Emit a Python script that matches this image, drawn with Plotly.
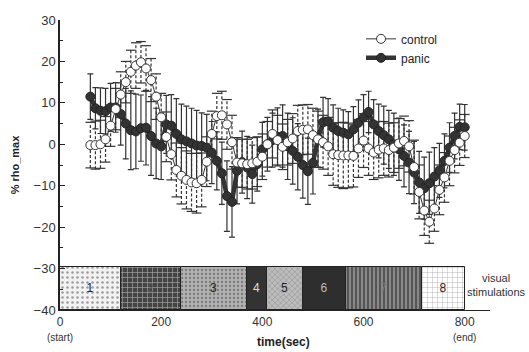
import plotly.graph_objects as go

# ---------------- data ----------------
time_sec = list(range(60, 801, 10))

control_mean = [-0.2, -0.2, 0.0, 1.2, 4.5,
                8.5, 12.0, 15.0, 17.5, 19.0, 19.8,
                18.3, 15.5, 11.5, 6.5, 1.8, -2.4,
                -6.2, -7.6, -8.6, -9.2, -9.4, -8.6,
                -4.2, 2.5, 6.8, 7.0, 4.8, 0.5,
                -4.4, -4.6, -4.8, -4.6, -4.2, -3.0,
                0.0, 2.5, 1.0, -0.6, 0.5, 1.4,
                3.2, 3.5, 3.6, 2.2, 1.2, 0.5,
                -0.5, -2.4, -2.6, -2.7, -2.7, -2.8,
                -1.0, 0.9, -1.0, -2.0, -1.3, -1.0,
                -1.4, -0.8, 0.2, 0.8, -0.5, -5.5,
                -11.5, -16.0, -18.7, -15.5, -11.0, -8.0,
                -4.0, -1.4, 0.4, 2.0]
control_err = [5.5, 5.8, 5.8, 5.5, 5.0,
               5.0, 5.5, 5.0, 5.2, 5.5, 5.0,
               5.5, 5.2, 5.5, 5.8, 6.0, 6.2,
               6.5, 6.8, 7.0, 7.0, 7.2, 6.5,
               6.0, 5.5, 5.5, 5.8, 6.0, 6.5,
               6.0, 5.8, 6.0, 6.2, 6.0, 5.5,
               5.5, 5.8, 6.0, 5.5, 5.5, 6.0,
               6.2, 6.0, 6.0, 6.5, 6.8, 6.5,
               7.0, 7.5, 7.8, 8.0, 7.8, 7.5,
               7.0, 6.5, 6.5, 6.5, 6.8, 6.5,
               6.5, 6.0, 6.0, 6.0, 6.2, 6.5,
               6.5, 6.0, 5.2, 5.5, 6.0, 6.0,
               6.0, 5.5, 5.5, 5.2]

panic_mean = [11.5, 8.7, 8.1, 8.0, 8.9,
              8.9, 7.3, 5.0, 3.4, 3.1, 3.9,
              4.0, 2.0, 0.2, -0.5, 4.8, 4.5,
              2.5, 1.2, 0.7, 0.2, -0.3, -0.4,
              -0.8, -2.0, -4.0, -7.0, -12.5, -13.9,
              -6.4, -4.3, -5.6, -7.2, -4.8, -1.2,
              0.0, 1.0, 1.8, 2.0, -0.5, -1.6,
              -3.0, -5.0, -6.5, -4.5, 1.5, 5.3,
              5.5, 4.0, 3.2, 2.8, 2.4, 3.6,
              5.2, 6.5, 7.8, 4.8, 3.2, 2.2,
              1.2, 0.0, -1.2, -2.8, -4.4, -6.8,
              -9.2, -10.6, -9.4, -7.8, -6.3, -4.0,
              -0.8, 2.0, 4.2, 4.1]
panic_err = [5.5, 5.0, 5.5, 5.5, 5.8,
             6.0, 7.5, 8.5, 9.5, 9.0, 8.0,
             9.0, 9.5, 8.5, 8.0, 7.0, 7.5,
             8.5, 8.5, 8.5, 8.5, 8.5, 8.0,
             8.0, 7.5, 7.0, 7.5, 8.5, 8.5,
             8.0, 7.5, 7.5, 7.0, 6.5, 6.5,
             6.5, 6.5, 7.0, 7.5, 8.0, 8.0,
             8.0, 8.0, 8.0, 7.5, 7.0, 6.0,
             5.5, 5.5, 5.5, 5.5, 5.5, 5.5,
             5.5, 5.5, 5.0, 6.0, 6.5, 7.0,
             7.0, 7.5, 7.5, 7.5, 7.5, 7.5,
             7.5, 7.5, 7.5, 7.0, 6.5, 6.5,
             6.0, 5.5, 5.5, 5.5]

stim_labels = ["1", "2", "3", "4", "5", "6", "7", "8"]
stim_start = [0, 120, 240, 370, 410, 480, 565, 715]
stim_end = [120, 240, 370, 410, 480, 565, 715, 800]
stim_bottom = -40
stim_top = -29.5

x_tickvals = [0, 200, 400, 600, 800]
x_ticktext = ["0<br><span style='font-size:10px'>(start)</span>", "200", "400", "600",
              "800<br><span style='font-size:10px'>(end)</span>"]
y_tickvals = [-40, -30, -20, -10, 0, 10, 20, 30]

# ---------------- figure ----------------
fig = go.Figure()

# stimulation blocks
stim_center = [(a + b) / 2 for a, b in zip(stim_start, stim_end)]
stim_width = [b - a for a, b in zip(stim_start, stim_end)]
stim_text_colors = ["#222222", "#5a5a5a", "#222222", "#dddddd", "#222222", "#bbbbbb", "#7a7a7a", "#222222"]
fig.add_trace(go.Bar(
    x=stim_center, width=stim_width,
    base=[stim_bottom] * len(stim_labels),
    y=[stim_top - stim_bottom] * len(stim_labels),
    text=stim_labels, textposition="inside", insidetextanchor="middle",
    textangle=0,
    insidetextfont=dict(size=12, family="Liberation Sans, Arial", color=stim_text_colors),
    textfont=dict(size=12, family="Liberation Sans, Arial", color=stim_text_colors),
    marker=dict(
        color=["#f2f2f2", "#444444", "#b0b0b0", "#333333", "#bdbdbd", "#2e2e2e", "#555555", "#ffffff"],
        line=dict(color="#222", width=1),
        pattern=dict(
            shape=[".", "+", ".", "", "x", "", "|", "+"],
            fgcolor=["#aaaaaa", "#777777", "#e0e0e0", "#333333", "#8a8a8a", "#2e2e2e", "#888888", "#777777"],
            size=[5, 5, 4, 5, 4, 5, 4, 5],
            solidity=[0.2, 0.25, 0.25, 0.2, 0.2, 0.2, 0.3, 0.15],
        ),
    ),
    showlegend=False, hoverinfo="skip",
))

# panic series (solid error bars)
fig.add_trace(go.Scatter(
    x=time_sec, y=panic_mean, mode="lines+markers", name="panic",
    line=dict(color="#333", width=4.5),
    marker=dict(symbol="circle", size=9, color="#333", line=dict(color="#222", width=1)),
    error_y=dict(type="data", array=panic_err, visible=True, color="#333", thickness=1.2, width=3),
    legendrank=2,
))

# control series: dashed error bars built from the data arrays
ex, ey, capx, capy = [], [], [], []
for t, m, e in zip(time_sec, control_mean, control_err):
    ex += [t, t, None]
    ey += [m - e, m + e, None]
    capx += [t, t]
    capy += [m - e, m + e]
fig.add_trace(go.Scatter(x=ex, y=ey, mode="lines", line=dict(color="#333", width=1.2, dash="3px,2px"),
                         showlegend=False, hoverinfo="skip"))
fig.add_trace(go.Scatter(x=capx, y=capy, mode="markers",
                         marker=dict(symbol="line-ew", size=7, line=dict(color="#333", width=1.2)),
                         showlegend=False, hoverinfo="skip"))
fig.add_trace(go.Scatter(
    x=time_sec, y=control_mean, mode="lines+markers", name="control",
    line=dict(color="#333", width=1),
    marker=dict(symbol="circle", size=9, color="white", line=dict(color="#333", width=1)),
    legendrank=1,
))

fig.add_annotation(x=1.016, xref="paper", y=-34.0, yref="y", text="visual<br>stimulations",
                   showarrow=False, xanchor="center", yanchor="middle", align="center",
                   font=dict(size=11, color="#333", family="Liberation Sans, Arial"))
fig.add_annotation(x=0.519, xref="paper", y=-0.11, yref="paper", text="<b>time(sec)</b>",
                   showarrow=False, xanchor="center", yanchor="middle",
                   font=dict(size=12, color="#222", family="Liberation Sans, Arial"))

fig.update_layout(
    width=529, height=352,
    margin=dict(l=60, r=39, t=20, b=42, autoexpand=False),
    paper_bgcolor="white", plot_bgcolor="white",
    font=dict(family="Liberation Sans, Arial", color="#222"),
    barmode="overlay", bargap=0,
    legend=dict(x=0.70, y=0.985, xanchor="left", yanchor="top",
                bgcolor="rgba(0,0,0,0)", font=dict(size=12, color="#222"),
                itemwidth=30, tracegroupgap=0),
    showlegend=True,
)
fig.update_xaxes(range=[0, 850], tickvals=x_tickvals, ticktext=x_ticktext, automargin=False,
                 showline=True, linecolor="#222", linewidth=1.2,
                 showgrid=False, zeroline=False, ticks="",
                 tickfont=dict(size=12, color="#333"))
fig.update_yaxes(range=[-40, 30], tickvals=y_tickvals, automargin=False,
                 showline=True, linecolor="#222", linewidth=1.5,
                 showgrid=False, zeroline=False, ticks="inside", ticklen=5, tickcolor="#222",
                 minor=dict(ticks="inside", dtick=5, ticklen=3, tickcolor="#222"),
                 tickfont=dict(size=13, color="#333"),
                 title=dict(text="<b>% rho_max</b>", font=dict(size=11, color="#222"), standoff=12))

fig.write_html("out.html", config={"displayModeBar": False},
               post_script="document.body.style.margin='0';document.body.style.padding='0';"
                           "document.body.style.overflow='hidden';")
